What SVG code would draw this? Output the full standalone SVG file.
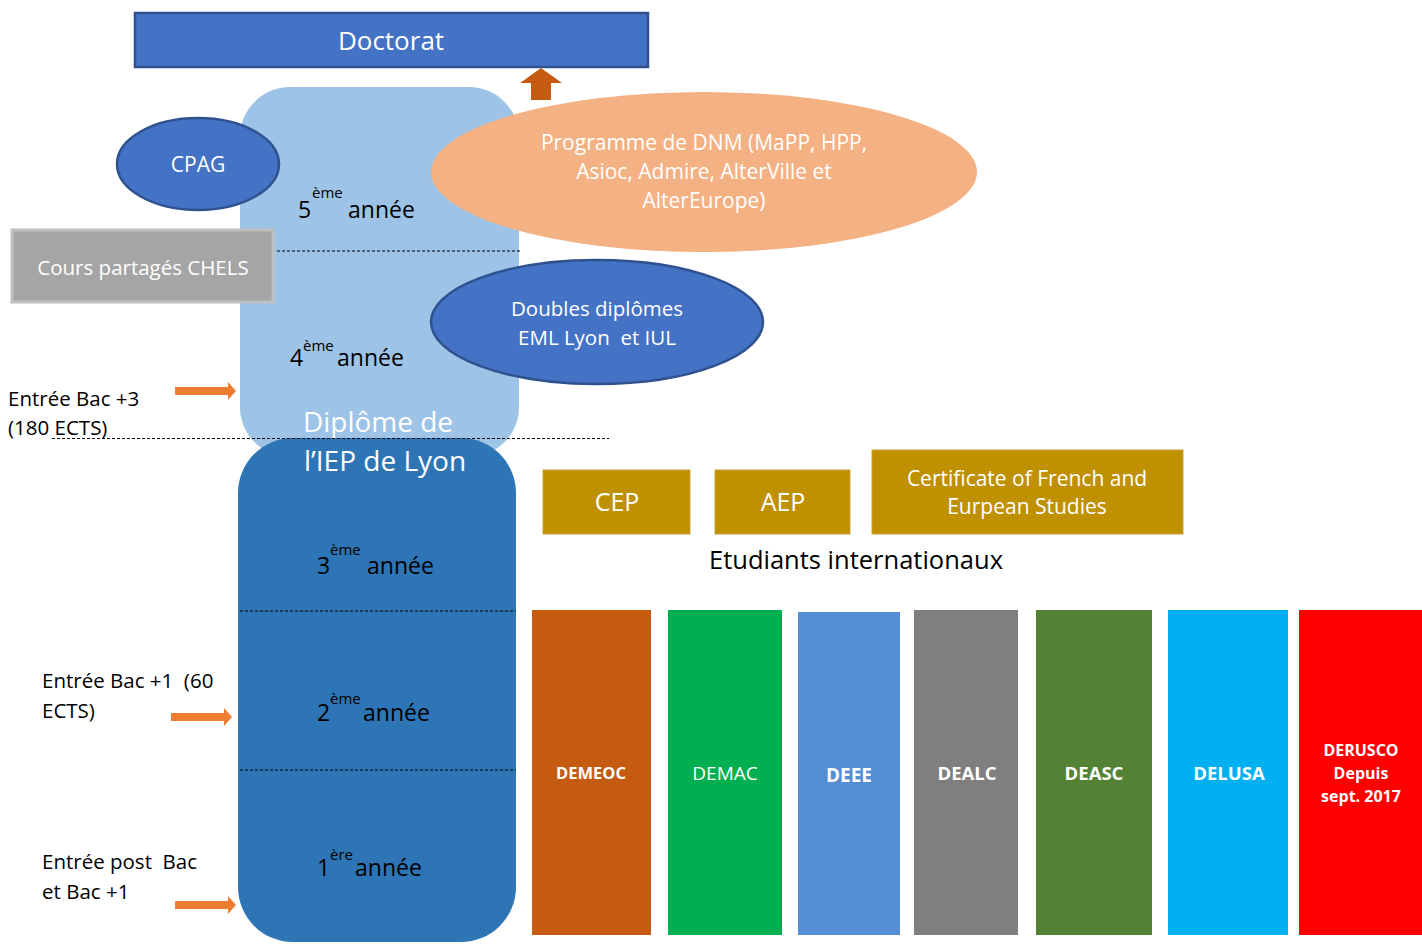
<svg xmlns="http://www.w3.org/2000/svg" width="1422" height="945" viewBox="0 0 1422 945">
<defs>
<style>
text{font-family:"Open Sans","Noto Sans","Liberation Sans",sans-serif;}
.w{fill:#fff;}
.k{fill:#000;}
.mid{text-anchor:middle;}
.blue{fill:#4472C4;stroke:#2F528F;stroke-width:2.5;}
.dash{stroke:#000;stroke-width:1;stroke-dasharray:3,2;fill:none;}
.oarrow{fill:#ED7D31;}
.b{font-weight:bold;}
.yr{font-size:23px;}
.sup{font-size:15px;}
.side{font-size:20.5px;}
.gold{fill:#BF9000;stroke:#C9A23A;stroke-width:1;}
</style>
</defs>
<rect width="1422" height="945" fill="#fff"/>

<g id="diplome-upper">
<rect x="240" y="87" width="279" height="370" rx="50" fill="#9DC3E6"/>
</g>
<g id="diplome-lower">
<rect x="238" y="438" width="278" height="504" rx="55" fill="#2E75B6"/>
</g>

<g id="doctorat">
<rect x="135" y="13" width="513" height="54" class="blue"/>
<text x="391" y="50" class="w mid" font-size="26">Doctorat</text>
</g>

<g id="cpag">
<ellipse cx="198" cy="164" rx="81" ry="46" class="blue"/>
<text x="198" y="172" class="w mid" font-size="21">CPAG</text>
</g>

<g id="annee5">
<text x="298" y="218" class="k yr">5</text>
<text x="312" y="198" class="k sup">ème</text>
<text x="348" y="218" class="k yr">année</text>
</g>

<g id="chels">
<rect x="12" y="230" width="261" height="72" fill="#A5A5A5" stroke="#BFBFBF" stroke-width="3"/>
<text x="143" y="275" class="w mid" font-size="20.5">Cours partagés CHELS</text>
</g>

<g id="dnm">
<ellipse cx="704" cy="172" rx="273" ry="80" fill="#F4B183"/>
<text class="w mid" font-size="21"><tspan x="704" y="150">Programme de DNM (MaPP, HPP,</tspan><tspan x="704" y="179">Asioc, Admire, AlterVille et</tspan><tspan x="704" y="208">AlterEurope)</tspan></text>
</g>

<g id="doubles">
<ellipse cx="597" cy="322" rx="166" ry="62" class="blue"/>
<text class="w mid" font-size="20.5" xml:space="preserve"><tspan x="597" y="316">Doubles diplômes</tspan><tspan x="597" y="345">EML Lyon  et IUL</tspan></text>
</g>

<g id="annee4">
<text x="290" y="366" class="k yr">4</text>
<text x="303" y="351" class="k sup">ème</text>
<text x="337" y="366" class="k yr">année</text>
</g>

<g id="bac3">
<text class="k side"><tspan x="8" y="406">Entrée Bac +3</tspan><tspan x="8" y="435">(180 ECTS)</tspan></text>
</g>

<g id="diplome-title">
<text x="378" y="432" class="w mid" font-size="28">Diplôme de</text>
<text x="385" y="471" class="w mid" font-size="28">l’IEP de Lyon</text>
</g>

<g id="annee3">
<text x="317" y="574" class="k yr">3</text>
<text x="330" y="555" class="k sup">ème</text>
<text x="367" y="574" class="k yr">année</text>
</g>
<g id="annee2">
<text x="317" y="721" class="k yr">2</text>
<text x="330" y="704" class="k sup">ème</text>
<text x="363" y="721" class="k yr">année</text>
</g>
<g id="annee1">
<text x="317" y="876" class="k yr">1</text>
<text x="330" y="860" class="k sup">ère</text>
<text x="355" y="876" class="k yr">année</text>
</g>

<g id="bac1">
<text class="k side" xml:space="preserve"><tspan x="42" y="688">Entrée Bac +1  (60</tspan><tspan x="42" y="718">ECTS)</tspan></text>
</g>
<g id="postbac">
<text class="k side" xml:space="preserve"><tspan x="42" y="869">Entrée post  Bac</tspan><tspan x="42" y="899">et Bac +1</tspan></text>
</g>

<g id="cep">
<rect x="543" y="470" width="147" height="64" class="gold"/>
<text x="617" y="511" class="w mid" font-size="25">CEP</text>
</g>
<g id="aep">
<rect x="715" y="470" width="135" height="64" class="gold"/>
<text x="783" y="511" class="w mid" font-size="25">AEP</text>
</g>
<g id="cfes">
<rect x="872" y="450" width="311" height="84" class="gold"/>
<text class="w mid" font-size="21"><tspan x="1027" y="486">Certificate of French and</tspan><tspan x="1027" y="514">Eurpean Studies</tspan></text>
</g>
<g id="etudiants">
<text x="856" y="569" class="k mid" font-size="25.5">Etudiants internationaux</text>
</g>

<g id="demeoc">
<rect x="532" y="610" width="119" height="325" fill="#C55A11"/>
<text x="591" y="779" class="w mid b" font-size="16.5">DEMEOC</text>
</g>
<g id="demac">
<rect x="668" y="610" width="114" height="325" fill="#00B050"/>
<text x="725" y="780" class="w mid" font-size="19">DEMAC</text>
</g>
<g id="deee">
<rect x="798" y="612" width="102" height="323" fill="#558ED5"/>
<text x="849" y="782" class="w mid b" font-size="19">DEEE</text>
</g>
<g id="dealc">
<rect x="914" y="610" width="104" height="325" fill="#7F7F7F"/>
<text x="967" y="780" class="w mid b" font-size="18.5">DEALC</text>
</g>
<g id="deasc">
<rect x="1036" y="610" width="116" height="325" fill="#548235"/>
<text x="1094" y="780" class="w mid b" font-size="18.5">DEASC</text>
</g>
<g id="delusa">
<rect x="1168" y="610" width="120" height="325" fill="#00B0F0"/>
<text x="1229" y="780" class="w mid b" font-size="18.5">DELUSA</text>
</g>
<g id="derusco">
<rect x="1299" y="610" width="123" height="325" fill="#FF0000"/>
<text class="w mid b" font-size="16"><tspan x="1361" y="756">DERUSCO</tspan><tspan x="1361" y="779">Depuis</tspan><tspan x="1361" y="802">sept. 2017</tspan></text>
</g>

<g id="connectors">
<line x1="277" y1="251" x2="521" y2="251" class="dash"/>
<line x1="52" y1="438.5" x2="609" y2="438.5" class="dash"/>
<line x1="240" y1="611" x2="516" y2="611" class="dash"/>
<line x1="240" y1="770" x2="516" y2="770" class="dash"/>
<polygon points="531,100 551,100 551,83 562,83 541,68 520,83 531,83" fill="#C55A11"/>
<polygon points="175,387 228,387 228,382 236,391 228,400 228,395 175,395" class="oarrow"/>
<polygon points="171,713 224,713 224,708 232,717 224,726 224,721 171,721" class="oarrow"/>
<polygon points="175,901 228,901 228,896 236,905 228,914 228,909 175,909" class="oarrow"/>
</g>
</svg>
